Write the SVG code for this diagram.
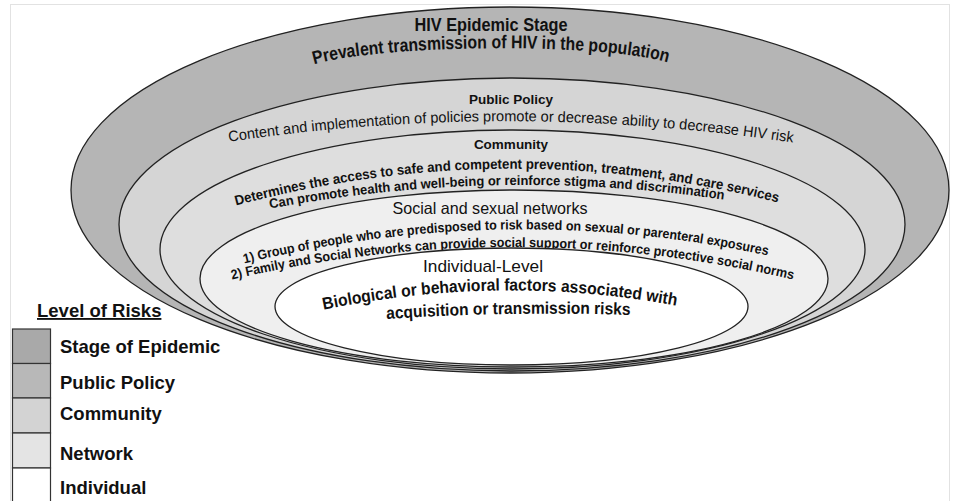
<svg xmlns="http://www.w3.org/2000/svg" width="954" height="501" viewBox="0 0 954 501">
<style>
.ring{stroke:#222;stroke-width:1.3}
text{font-family:"Liberation Sans",Arial,Helvetica,sans-serif;fill:#111}
.b{font-weight:bold}
.lg{font-size:18.5px;font-weight:bold}
.box{stroke:#333;stroke-width:1.2}
</style>
<defs>
<path id="p1" d="M312,65 C380,44 602,42 670,63"/>
<path id="p2" d="M227,142 Q511,100 795,143"/>
<path id="p3" d="M234,206 Q507,133 780,203"/>
<path id="p4" d="M268,209 Q497,166 726,200"/>
<path id="p5" d="M242,264 Q506,199 770,256"/>
<path id="p6" d="M230,280 Q512,214 795,280"/>
<path id="p7" d="M322,310 Q500,273 678,306"/>
<path id="p8" d="M386,319 Q508,311 631,315"/>
</defs>
<rect x="0" y="0" width="954" height="501" fill="#fff"/>
<rect x="10.5" y="4.5" width="939" height="520" fill="none" stroke="#e2e2e2"/>

<g id="epidemic-stage">
<ellipse class="ring" cx="510" cy="190" rx="439" ry="183" fill="#b5b5b5"/>
<text class="b" x="491" y="31" font-size="17.5" text-anchor="middle" textLength="153" lengthAdjust="spacingAndGlyphs">HIV Epidemic Stage</text>
<text class="b" font-size="18.5"><textPath href="#p1" startOffset="50%" text-anchor="middle" textLength="356" lengthAdjust="spacingAndGlyphs">Prevalent transmission of HIV in the population</textPath></text>
</g>

<g id="public-policy">
<ellipse class="ring" cx="512" cy="224.5" rx="393" ry="146.5" fill="#d5d5d5"/>
<text class="b" x="511" y="104" font-size="13.5" text-anchor="middle">Public Policy</text>
<text font-size="15"><textPath href="#p2" startOffset="50%" text-anchor="middle" textLength="566" lengthAdjust="spacingAndGlyphs">Content and implementation of policies promote or decrease ability to decrease HIV risk</textPath></text>
</g>

<g id="community">
<ellipse class="ring" cx="512.5" cy="249.5" rx="352.5" ry="119.5" fill="#dedede"/>
<text class="b" x="511" y="149" font-size="13.5" text-anchor="middle">Community</text>
<text class="b" font-size="14"><textPath href="#p3" startOffset="50%" text-anchor="middle" textLength="548" lengthAdjust="spacingAndGlyphs">Determines the access to safe and competent prevention, treatment, and care services</textPath></text>
<text class="b" font-size="13.5"><textPath href="#p4" startOffset="50%" text-anchor="middle" textLength="456" lengthAdjust="spacingAndGlyphs">Can promote health and well-being or reinforce stigma and discrimination</textPath></text>
</g>

<g id="network">
<ellipse class="ring" cx="514" cy="278.5" rx="314" ry="88.5" fill="#efefef"/>
<text x="490" y="214" font-size="16.5" text-anchor="middle" textLength="195" lengthAdjust="spacingAndGlyphs">Social and sexual networks</text>
<text class="b" font-size="13.5"><textPath href="#p5" startOffset="50%" text-anchor="middle" textLength="528" lengthAdjust="spacingAndGlyphs">1) Group of people who are predisposed to risk based on sexual or parenteral exposures</textPath></text>
<text class="b" font-size="13.5"><textPath href="#p6" startOffset="50%" text-anchor="middle" textLength="566" lengthAdjust="spacingAndGlyphs">2) Family and Social Networks can provide social support or reinforce protective social norms</textPath></text>
</g>

<g id="individual">
<ellipse class="ring" cx="511.5" cy="306.5" rx="236.5" ry="58.5" fill="#ffffff"/>
<text x="483" y="272" font-size="17" text-anchor="middle" textLength="120" lengthAdjust="spacingAndGlyphs">Individual-Level</text>
<text class="b" font-size="17"><textPath href="#p7" startOffset="50%" text-anchor="middle" textLength="355" lengthAdjust="spacingAndGlyphs">Biological or behavioral factors associated with</textPath></text>
<text class="b" font-size="17"><textPath href="#p8" startOffset="50%" text-anchor="middle" textLength="244" lengthAdjust="spacingAndGlyphs">acquisition or transmission risks</textPath></text>
</g>

<g id="legend">
<text class="lg" x="37" y="317" text-decoration="underline">Level of Risks</text>
<rect class="box" x="12.5" y="329" width="38" height="34.5" fill="#a9a9a9"/>
<rect class="box" x="12.5" y="363.5" width="38" height="34.5" fill="#b8b8b8"/>
<rect class="box" x="12.5" y="398" width="38" height="35" fill="#d3d3d3"/>
<rect class="box" x="12.5" y="433" width="38" height="35" fill="#e4e4e4"/>
<rect class="box" x="12.5" y="468" width="38" height="40" fill="#ffffff"/>
<text class="lg" x="60" y="353">Stage of Epidemic</text>
<text class="lg" x="60" y="389">Public Policy</text>
<text class="lg" x="60" y="420">Community</text>
<text class="lg" x="60" y="460">Network</text>
<text class="lg" x="60" y="494">Individual</text>
</g>
</svg>
